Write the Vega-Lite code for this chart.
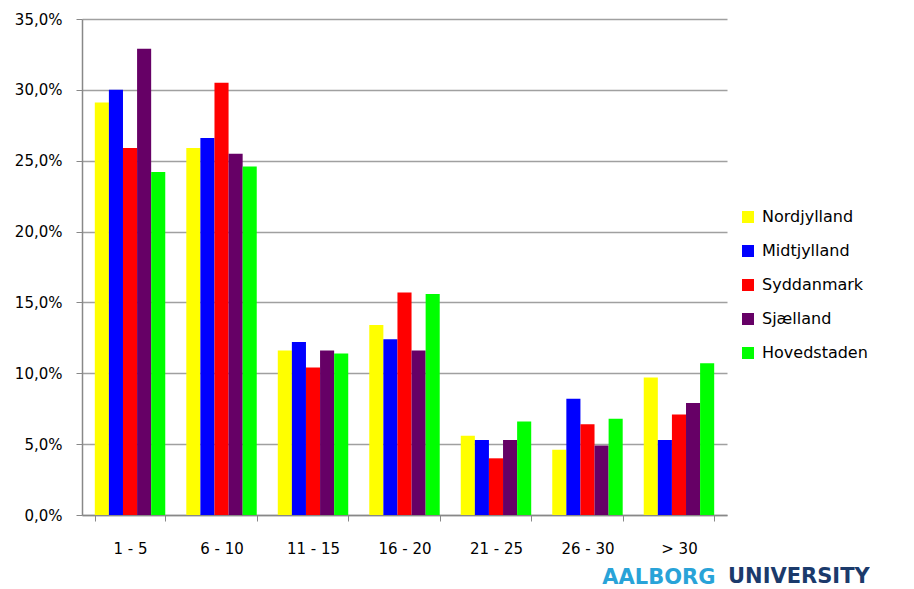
{
  "$schema": "https://vega.github.io/schema/vega-lite/v6.json",
  "width": 645,
  "height": 496,
  "padding": {"left": 14, "top": 12, "right": 0, "bottom": 0},
  "background": "white",
  "title": {
    "text": "UNIVERSITY",
    "orient": "bottom",
    "anchor": "start",
    "frame": "group",
    "dx": 646,
    "dy": -21,
    "offset": 0,
    "font": "DejaVu Sans",
    "fontSize": 21,
    "fontWeight": "bold",
    "color": "#1b3a6b"
  },
  "data": {
    "values": [
      {"group": "1 - 5", "region": "Nordjylland", "pct": 29.1},
      {"group": "1 - 5", "region": "Midtjylland", "pct": 30.0},
      {"group": "1 - 5", "region": "Syddanmark", "pct": 25.9},
      {"group": "1 - 5", "region": "Sjælland", "pct": 32.9},
      {"group": "1 - 5", "region": "Hovedstaden", "pct": 24.2},
      {"group": "6 - 10", "region": "Nordjylland", "pct": 25.9},
      {"group": "6 - 10", "region": "Midtjylland", "pct": 26.6},
      {"group": "6 - 10", "region": "Syddanmark", "pct": 30.5},
      {"group": "6 - 10", "region": "Sjælland", "pct": 25.5},
      {"group": "6 - 10", "region": "Hovedstaden", "pct": 24.6},
      {"group": "11 - 15", "region": "Nordjylland", "pct": 11.6},
      {"group": "11 - 15", "region": "Midtjylland", "pct": 12.2},
      {"group": "11 - 15", "region": "Syddanmark", "pct": 10.4},
      {"group": "11 - 15", "region": "Sjælland", "pct": 11.6},
      {"group": "11 - 15", "region": "Hovedstaden", "pct": 11.4},
      {"group": "16 - 20", "region": "Nordjylland", "pct": 13.4},
      {"group": "16 - 20", "region": "Midtjylland", "pct": 12.4},
      {"group": "16 - 20", "region": "Syddanmark", "pct": 15.7},
      {"group": "16 - 20", "region": "Sjælland", "pct": 11.6},
      {"group": "16 - 20", "region": "Hovedstaden", "pct": 15.6},
      {"group": "21 - 25", "region": "Nordjylland", "pct": 5.6},
      {"group": "21 - 25", "region": "Midtjylland", "pct": 5.3},
      {"group": "21 - 25", "region": "Syddanmark", "pct": 4.0},
      {"group": "21 - 25", "region": "Sjælland", "pct": 5.3},
      {"group": "21 - 25", "region": "Hovedstaden", "pct": 6.6},
      {"group": "26 - 30", "region": "Nordjylland", "pct": 4.6},
      {"group": "26 - 30", "region": "Midtjylland", "pct": 8.2},
      {"group": "26 - 30", "region": "Syddanmark", "pct": 6.4},
      {"group": "26 - 30", "region": "Sjælland", "pct": 4.9},
      {"group": "26 - 30", "region": "Hovedstaden", "pct": 6.8},
      {"group": "> 30", "region": "Nordjylland", "pct": 9.7},
      {"group": "> 30", "region": "Midtjylland", "pct": 5.3},
      {"group": "> 30", "region": "Syddanmark", "pct": 7.1},
      {"group": "> 30", "region": "Sjælland", "pct": 7.9},
      {"group": "> 30", "region": "Hovedstaden", "pct": 10.7}
    ]
  },
  "mark": {"type": "bar"},
  "encoding": {
    "x": {
      "field": "group",
      "type": "nominal",
      "sort": null,
      "scale": {"paddingInner": 0.23, "paddingOuter": 0.14},
      "axis": {
        "title": "AALBORG",
        "titleAnchor": "end",
        "titleX": 633,
        "titleAlign": "right",
        "titleFont": "DejaVu Sans",
        "titleFontSize": 21,
        "titleFontWeight": "bold",
        "titleColor": "#29a3d8",
        "titlePadding": 10,
        "labelAngle": 0,
        "labelFont": "DejaVu Sans",
        "labelFontSize": 15,
        "labelColor": "#000",
        "labelPadding": 20,
        "tickBand": "extent",
        "tickSize": 6,
        "tickColor": "#888",
        "domainColor": "#888",
        "domainWidth": 1.5,
        "grid": false
      }
    },
    "xOffset": {
      "field": "region",
      "sort": ["Nordjylland", "Midtjylland", "Syddanmark", "Sjælland", "Hovedstaden"],
      "scale": {"paddingInner": 0, "paddingOuter": 0}
    },
    "y": {
      "field": "pct",
      "type": "quantitative",
      "scale": {"domain": [0, 35]},
      "axis": {
        "title": null,
        "values": [0, 5, 10, 15, 20, 25, 30, 35],
        "labelExpr": "replace(format(datum.value, '.1f'), '.', ',') + '%'",
        "labelFont": "DejaVu Sans",
        "labelFontSize": 15,
        "labelColor": "#000",
        "labelPadding": 14,
        "tickSize": 6,
        "tickColor": "#888",
        "domainColor": "#888",
        "domainWidth": 1.5,
        "gridColor": "#a0a0a0",
        "gridWidth": 1.5
      }
    },
    "color": {
      "field": "region",
      "type": "nominal",
      "sort": ["Nordjylland", "Midtjylland", "Syddanmark", "Sjælland", "Hovedstaden"],
      "scale": {
        "domain": ["Nordjylland", "Midtjylland", "Syddanmark", "Sjælland", "Hovedstaden"],
        "range": ["#FFFF00", "#0000FF", "#FF0000", "#660066", "#00FF00"]
      },
      "legend": {
        "title": null,
        "orient": "none",
        "legendX": 658,
        "legendY": 190,
        "symbolType": "square",
        "symbolSize": 144,
        "symbolStrokeWidth": 0,
        "labelFont": "DejaVu Sans",
        "labelFontSize": 16,
        "labelColor": "#000",
        "rowPadding": 18,
        "labelOffset": 6,
        "padding": 0
      }
    }
  },
  "config": {
    "view": {"stroke": null}
  }
}
